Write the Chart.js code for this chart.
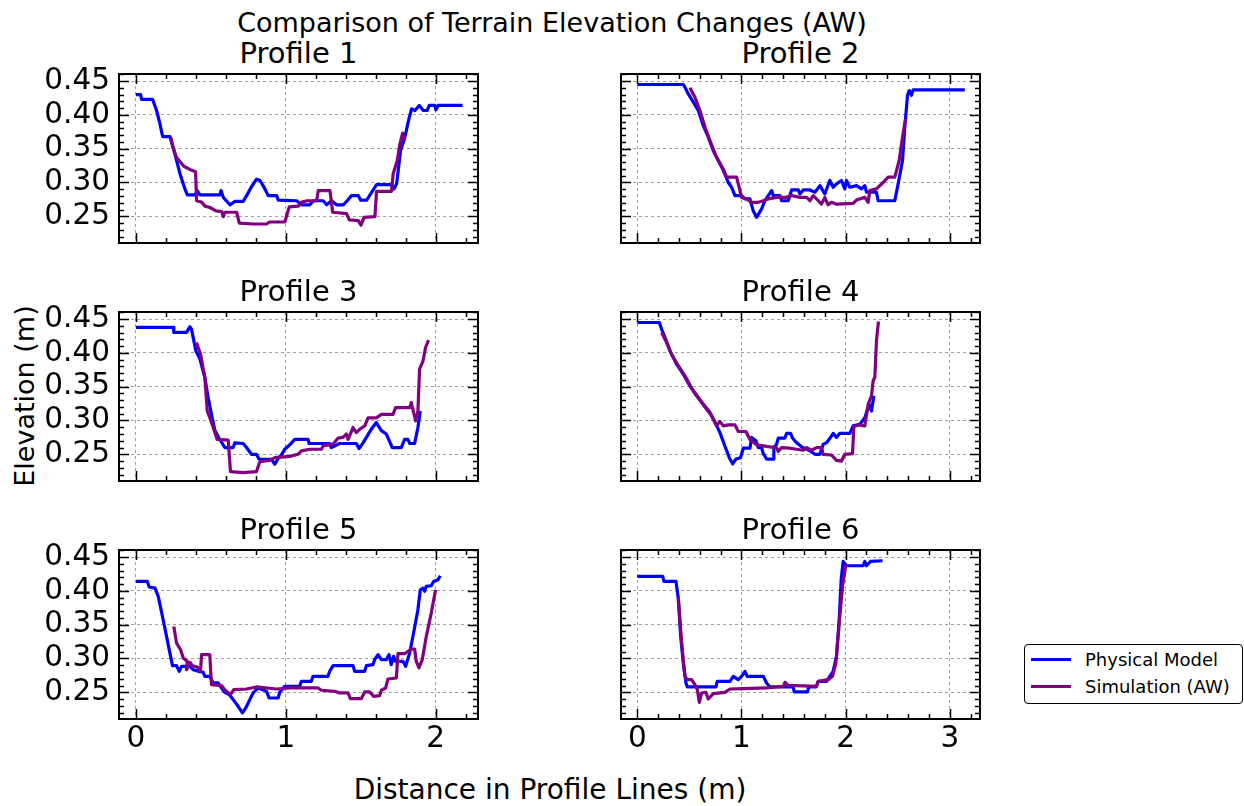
<!DOCTYPE html>
<html>
<head>
<meta charset="utf-8">
<title>Comparison of Terrain Elevation Changes (AW)</title>
<script src="https://cdn.jsdelivr.net/npm/chart.js@4.4.1/dist/chart.umd.min.js"></script>
<style>
  body { margin: 0; width: 1244px; height: 806px; background: #fff; position: relative; overflow: hidden;
         font-family: 'DejaVu Sans', sans-serif; color: #000; }
  canvas { position: absolute; }
  .txt { position: absolute; white-space: nowrap; line-height: 1; }
  #legend { position: absolute; left: 1024px; top: 644px; width: 219px; height: 60px; box-sizing: border-box;
            border: 1.5px solid #000; border-radius: 4px; background: #fff; }
  .leg-line { position: absolute; left: 6px; width: 40px; height: 3px; }
  .leg-text { position: absolute; left: 60px; font-size: 18px; line-height: 1; white-space: nowrap; }
</style>
</head>
<body>

<div class="txt" style="left:552px; top:9px; font-size:27px; transform:translateX(-50%);">Comparison of Terrain Elevation Changes (AW)</div>
<div class="txt" style="left:24px; top:396px; font-size:27px; transform:translate(-50%,-50%) rotate(-90deg);">Elevation (m)</div>
<div class="txt" style="left:550px; top:776px; font-size:28px; transform:translateX(-50%);">Distance in Profile Lines (m)</div>

<div id="legend">
  <div class="leg-line" style="top:13px; background:#0000ff;"></div>
  <div class="leg-text" style="top:6px;">Physical Model</div>
  <div class="leg-line" style="top:40px; background:#800080;"></div>
  <div class="leg-text" style="top:33px;">Simulation (AW)</div>
</div>

<script>
// Profile data, [distance (m), elevation (m)]
const p1Phys = [[0,0.430],[0.031,0.430],[0.038,0.423],[0.111,0.423],[0.138,0.4065],[0.160,0.387],[0.178,0.368],[0.227,0.368],[0.260,0.342],[0.294,0.313],[0.327,0.2905],[0.343,0.2816],[0.394,0.2816],[0.409,0.288],[0.427,0.2816],[0.561,0.2816],[0.568,0.288],[0.583,0.278],[0.627,0.267],[0.661,0.272],[0.716,0.272],[0.739,0.2806],[0.772,0.294],[0.805,0.305],[0.828,0.303],[0.861,0.2905],[0.883,0.2806],[0.939,0.2806],[0.950,0.274],[1.072,0.273],[1.106,0.267],[1.161,0.267],[1.184,0.273],[1.250,0.273],[1.273,0.267],[1.306,0.273],[1.339,0.267],[1.384,0.267],[1.410,0.273],[1.439,0.2806],[1.484,0.2806],[1.499,0.274],[1.540,0.274],[1.566,0.283],[1.606,0.297],[1.706,0.297],[1.722,0.2905],[1.740,0.298],[1.766,0.347],[1.795,0.367],[1.822,0.394],[1.840,0.409],[1.862,0.4065],[1.891,0.414],[1.918,0.4065],[1.944,0.4065],[1.958,0.414],[1.996,0.414],[2.002,0.4075],[2.018,0.414],[2.180,0.414]];
const p1Sim = [[0.234,0.366],[0.249,0.351],[0.271,0.337],[0.294,0.331],[0.320,0.324],[0.372,0.318],[0.398,0.316],[0.405,0.273],[0.438,0.271],[0.461,0.265],[0.494,0.263],[0.534,0.258],[0.572,0.257],[0.583,0.2495],[0.594,0.256],[0.672,0.256],[0.690,0.240],[0.783,0.2386],[0.872,0.2386],[0.894,0.2416],[0.994,0.2416],[1.023,0.264],[1.083,0.265],[1.106,0.271],[1.143,0.273],[1.206,0.273],[1.217,0.288],[1.295,0.288],[1.313,0.256],[1.406,0.254],[1.424,0.2446],[1.484,0.2436],[1.502,0.237],[1.522,0.2485],[1.595,0.2495],[1.606,0.287],[1.706,0.287],[1.717,0.313],[1.744,0.3325],[1.762,0.357],[1.780,0.373],[1.795,0.362]];

const p2Phys = [[0,0.445],[0.441,0.445],[0.457,0.441],[0.489,0.431],[0.537,0.419],[0.585,0.4065],[0.633,0.384],[0.681,0.367],[0.729,0.347],[0.777,0.3325],[0.825,0.318],[0.873,0.300],[0.905,0.293],[0.937,0.2806],[1.001,0.2806],[1.033,0.2757],[1.081,0.2757],[1.113,0.258],[1.145,0.2485],[1.193,0.261],[1.225,0.273],[1.257,0.2806],[1.289,0.288],[1.305,0.2806],[1.369,0.2806],[1.385,0.273],[1.449,0.273],[1.481,0.289],[1.545,0.289],[1.561,0.283],[1.593,0.289],[1.657,0.289],[1.705,0.2856],[1.753,0.2954],[1.800,0.283],[1.848,0.303],[1.880,0.293],[1.912,0.298],[1.960,0.303],[1.992,0.2905],[2.008,0.303],[2.040,0.293],[2.104,0.2954],[2.152,0.2905],[2.184,0.2954],[2.200,0.2856],[2.296,0.2856],[2.312,0.273],[2.472,0.273],[2.504,0.298],[2.546,0.3325],[2.568,0.382],[2.594,0.429],[2.610,0.436],[2.632,0.429],[2.648,0.437],[3.144,0.437]];
const p2Sim = [[0.505,0.440],[0.553,0.426],[0.601,0.4065],[0.649,0.382],[0.697,0.362],[0.761,0.337],[0.825,0.320],[0.857,0.308],[0.953,0.308],[1.001,0.278],[1.049,0.2757],[1.097,0.2707],[1.161,0.2707],[1.209,0.273],[1.257,0.2757],[1.337,0.278],[1.433,0.278],[1.481,0.2806],[1.561,0.278],[1.625,0.278],[1.657,0.273],[1.689,0.2806],[1.737,0.273],[1.768,0.268],[1.800,0.278],[1.832,0.267],[1.864,0.2707],[1.912,0.268],[2.072,0.269],[2.104,0.274],[2.184,0.278],[2.216,0.2707],[2.232,0.288],[2.296,0.2905],[2.360,0.300],[2.408,0.308],[2.472,0.308],[2.514,0.3325],[2.546,0.367],[2.575,0.394]];

const p3Phys = [[0,0.4377],[0.249,0.4377],[0.253,0.4303],[0.338,0.4303],[0.360,0.4386],[0.371,0.4352],[0.382,0.4229],[0.400,0.403],[0.427,0.391],[0.460,0.3636],[0.482,0.334],[0.504,0.309],[0.527,0.285],[0.560,0.272],[0.593,0.260],[0.649,0.260],[0.660,0.267],[0.716,0.266],[0.738,0.260],[0.771,0.250],[0.804,0.250],[0.822,0.2427],[0.904,0.2427],[0.927,0.2353],[0.949,0.244],[0.971,0.249],[0.993,0.2575],[1.027,0.264],[1.060,0.272],[1.149,0.272],[1.156,0.266],[1.293,0.266],[1.304,0.260],[1.360,0.266],[1.471,0.266],[1.489,0.2585],[1.516,0.267],[1.538,0.275],[1.571,0.287],[1.604,0.297],[1.638,0.285],[1.671,0.280],[1.711,0.260],[1.771,0.260],[1.793,0.272],[1.816,0.272],[1.827,0.266],[1.860,0.266],[1.882,0.2896],[1.898,0.314]];
const p3Sim = [[0.404,0.4155],[0.431,0.398],[0.460,0.3636],[0.476,0.314],[0.493,0.304],[0.516,0.2896],[0.542,0.272],[0.616,0.271],[0.631,0.2244],[0.716,0.2229],[0.804,0.2244],[0.827,0.239],[0.893,0.241],[0.927,0.245],[1.027,0.247],[1.082,0.250],[1.104,0.255],[1.160,0.2575],[1.238,0.2575],[1.249,0.2624],[1.316,0.265],[1.349,0.274],[1.382,0.275],[1.404,0.280],[1.416,0.272],[1.449,0.2896],[1.471,0.282],[1.493,0.287],[1.527,0.292],[1.549,0.304],[1.604,0.304],[1.638,0.309],[1.716,0.309],[1.733,0.319],[1.827,0.319],[1.838,0.3266],[1.853,0.312],[1.867,0.2995],[1.882,0.314],[1.893,0.376],[1.916,0.388],[1.933,0.408],[1.953,0.419]];

const p4Phys = [[0,0.445],[0.211,0.445],[0.233,0.435],[0.265,0.423],[0.313,0.403],[0.377,0.383],[0.441,0.3686],[0.505,0.351],[0.569,0.3365],[0.633,0.324],[0.697,0.312],[0.755,0.2945],[0.793,0.282],[0.841,0.262],[0.883,0.245],[0.915,0.236],[0.947,0.243],[0.991,0.245],[1.017,0.259],[1.081,0.259],[1.097,0.275],[1.139,0.270],[1.161,0.260],[1.193,0.260],[1.209,0.251],[1.241,0.243],[1.305,0.243],[1.311,0.260],[1.337,0.265],[1.353,0.274],[1.417,0.274],[1.433,0.281],[1.471,0.281],[1.490,0.274],[1.529,0.267],[1.577,0.261],[1.657,0.255],[1.705,0.250],[1.753,0.250],[1.784,0.265],[1.817,0.267],[1.855,0.275],[1.880,0.281],[1.912,0.275],[1.944,0.281],[2.040,0.281],[2.072,0.292],[2.136,0.2945],[2.184,0.304],[2.226,0.324],[2.248,0.314],[2.271,0.3365]];
const p4Sim = [[0.233,0.430],[0.281,0.4155],[0.329,0.398],[0.393,0.381],[0.457,0.366],[0.521,0.348],[0.585,0.334],[0.649,0.320],[0.713,0.307],[0.761,0.292],[0.793,0.2985],[0.825,0.292],[0.873,0.2935],[0.937,0.2935],[0.969,0.2837],[1.043,0.2837],[1.081,0.272],[1.145,0.264],[1.273,0.261],[1.337,0.260],[1.353,0.254],[1.385,0.260],[1.465,0.259],[1.529,0.2575],[1.593,0.256],[1.625,0.260],[1.673,0.256],[1.721,0.260],[1.769,0.260],[1.784,0.250],[1.864,0.249],[1.912,0.241],[1.960,0.240],[1.992,0.250],[2.066,0.251],[2.079,0.2906],[2.120,0.2935],[2.184,0.292],[2.216,0.324],[2.248,0.3365],[2.264,0.3587],[2.280,0.3636],[2.296,0.418],[2.315,0.4465]];

const p5Phys = [[0,0.414],[0.076,0.414],[0.089,0.4057],[0.127,0.4042],[0.149,0.392],[0.182,0.357],[0.204,0.333],[0.227,0.308],[0.244,0.2894],[0.271,0.2894],[0.289,0.281],[0.304,0.2884],[0.360,0.2884],[0.382,0.2835],[0.416,0.281],[0.449,0.2796],[0.460,0.2736],[0.493,0.2736],[0.516,0.2638],[0.549,0.2638],[0.571,0.2564],[0.593,0.250],[0.622,0.2466],[0.649,0.2392],[0.682,0.2293],[0.711,0.2195],[0.733,0.2268],[0.760,0.2392],[0.782,0.249],[0.816,0.2564],[0.871,0.2515],[0.889,0.2416],[0.949,0.2416],[0.960,0.250],[0.993,0.2589],[1.093,0.2589],[1.104,0.2663],[1.171,0.2663],[1.182,0.2736],[1.282,0.2736],[1.293,0.281],[1.316,0.2894],[1.449,0.2894],[1.460,0.281],[1.527,0.281],[1.538,0.2894],[1.582,0.2909],[1.593,0.2983],[1.616,0.3057],[1.638,0.2983],[1.671,0.2983],[1.689,0.3057],[1.704,0.2909],[1.720,0.3032],[1.733,0.2958],[1.782,0.2958],[1.800,0.2884],[1.827,0.3081],[1.853,0.3377],[1.882,0.3722],[1.898,0.4017],[1.916,0.4042],[1.927,0.3993],[1.938,0.4067],[1.971,0.4076],[1.987,0.414],[2.016,0.4165],[2.031,0.4224]];
const p5Sim = [[0.253,0.3475],[0.271,0.3229],[0.298,0.313],[0.316,0.3007],[0.342,0.2958],[0.338,0.2835],[0.360,0.2943],[0.378,0.2894],[0.409,0.2874],[0.431,0.281],[0.438,0.3057],[0.493,0.3057],[0.504,0.2613],[0.571,0.2599],[0.593,0.2539],[0.631,0.2466],[0.653,0.2539],[0.738,0.2549],[0.804,0.2579],[0.938,0.2549],[1.027,0.2564],[1.216,0.2564],[1.238,0.253],[1.327,0.2515],[1.360,0.249],[1.416,0.249],[1.431,0.2406],[1.504,0.2406],[1.527,0.2505],[1.560,0.2505],[1.587,0.2441],[1.627,0.2451],[1.638,0.253],[1.667,0.2564],[1.682,0.2697],[1.738,0.2712],[1.749,0.3071],[1.793,0.3071],[1.838,0.314],[1.860,0.314],[1.871,0.2958],[1.889,0.286],[1.911,0.2983],[1.938,0.3328],[1.971,0.3672],[2.000,0.4017]];

const p6Phys = [[0,0.4214],[0.243,0.4214],[0.256,0.414],[0.371,0.414],[0.393,0.3894],[0.416,0.3328],[0.441,0.2933],[0.467,0.2638],[0.480,0.2579],[0.755,0.2579],[0.767,0.2663],[0.889,0.2663],[0.921,0.2736],[0.969,0.2687],[1.001,0.2736],[1.033,0.281],[1.055,0.2736],[1.209,0.2736],[1.241,0.2638],[1.273,0.2579],[1.497,0.2579],[1.506,0.2505],[1.631,0.2505],[1.647,0.2579],[1.716,0.2579],[1.737,0.2663],[1.817,0.2663],[1.848,0.2736],[1.880,0.281],[1.912,0.3032],[1.938,0.3574],[1.957,0.4165],[1.976,0.4436],[2.008,0.4372],[2.168,0.4372],[2.184,0.4436],[2.200,0.4372],[2.239,0.4436],[2.354,0.4446]];
const p6Sim = [[0.393,0.3894],[0.416,0.3426],[0.435,0.3081],[0.457,0.2736],[0.480,0.2687],[0.521,0.2687],[0.553,0.2613],[0.576,0.2539],[0.595,0.2352],[0.617,0.249],[0.658,0.250],[0.681,0.2401],[0.729,0.248],[0.841,0.250],[0.889,0.2549],[1.017,0.2554],[1.241,0.2564],[1.401,0.2589],[1.417,0.2648],[1.449,0.2603],[1.529,0.2599],[1.721,0.2589],[1.737,0.2663],[1.833,0.2687],[1.874,0.2736],[1.906,0.2933],[1.938,0.3524],[1.970,0.4067],[2.002,0.4387]];

const profileNames = ['Profile 1', 'Profile 2', 'Profile 3', 'Profile 4', 'Profile 5', 'Profile 6'];
const physSeries = [p1Phys, p2Phys, p3Phys, p4Phys, p5Phys, p6Phys];
const simSeries = [p1Sim, p2Sim, p3Sim, p4Sim, p5Sim, p6Sim];

// Axis limits and ticks
const yLimits = [0.2105, 0.4605];
const yTicks = [0.25, 0.30, 0.35, 0.40, 0.45];
const yTickLabels = ['0.25', '0.30', '0.35', '0.40', '0.45'];
const leftXLimits = [-0.113, 2.283];
const rightXLimits = [-0.157, 3.29];
const leftXTicks = [0, 1, 2];
const rightXTicks = [0, 1, 2, 3];

Chart.defaults.font.family = "'DejaVu Sans', sans-serif";
Chart.defaults.color = '#000';

// Panel geometry (plot area in page pixels)
const colLeft = [119, 621];
const rowTop = [74, 312, 550];
const plotW = 359, plotH = 169;
const tickFont = 29.5;

// Inward ticks on all four sides + black frame
const frameTicks = {
  id: 'frameTicks',
  afterDraw(chart) {
    const {ctx, chartArea: a, scales: {x, y}} = chart;
    ctx.save();
    ctx.strokeStyle = '#000';
    ctx.lineWidth = 1.5;
    ctx.beginPath();
    for (let k = Math.ceil(x.min * 5); k <= Math.floor(x.max * 5); k++) {
      const px = Math.round(x.getPixelForValue(k / 5)) + 0.5;
      const len = k % 5 === 0 ? 10 : 5;
      ctx.moveTo(px, a.bottom); ctx.lineTo(px, a.bottom - len);
      ctx.moveTo(px, a.top); ctx.lineTo(px, a.top + len);
    }
    for (let k = Math.ceil(y.min * 100); k <= Math.floor(y.max * 100); k++) {
      const py = Math.round(y.getPixelForValue(k / 100)) + 0.5;
      const len = k % 5 === 0 ? 10 : 5;
      ctx.moveTo(a.left, py); ctx.lineTo(a.left + len, py);
      ctx.moveTo(a.right, py); ctx.lineTo(a.right - len, py);
    }
    ctx.stroke();
    ctx.lineWidth = 2;
    ctx.strokeRect(a.left, a.top, a.right - a.left, a.bottom - a.top);
    ctx.restore();
  }
};

function makePanel(i) {
  const col = i % 2, row = Math.floor(i / 2);
  const padTop = 30, padRight = 12, yAxisW = 119, xAxisH = 50;
  const w = yAxisW + plotW + padRight, h = padTop + plotH + xAxisH;
  const left = colLeft[col], top = rowTop[row];

  // Subplot title
  const t = document.createElement('div');
  t.className = 'txt';
  t.textContent = profileNames[i];
  t.style.fontSize = '29px';
  t.style.left = (left + plotW / 2) + 'px';
  t.style.top = (top - 35.2) + 'px';
  t.style.transform = 'translateX(-50%)';
  document.body.appendChild(t);

  const canvas = document.createElement('canvas');
  canvas.width = w; canvas.height = h;
  canvas.style.left = (left - yAxisW) + 'px';
  canvas.style.top = (top - padTop) + 'px';
  canvas.style.width = w + 'px';
  canvas.style.height = h + 'px';
  document.body.appendChild(canvas);

  const xLim = col === 0 ? leftXLimits : rightXLimits;
  const xTicks = col === 0 ? leftXTicks : rightXTicks;

  new Chart(canvas, {
    type: 'line',
    data: {
      datasets: [
        {
          label: 'Physical Model',
          data: physSeries[i].map(([x, y]) => ({x, y})),
          borderColor: '#0000ff',
          borderWidth: 3.2,
          pointRadius: 0,
          borderJoinStyle: 'round',
          fill: false,
          order: 1
        },
        {
          label: 'Simulation (AW)',
          data: simSeries[i].map(([x, y]) => ({x, y})),
          borderColor: '#800080',
          borderWidth: 3.2,
          pointRadius: 0,
          borderJoinStyle: 'round',
          fill: false,
          order: 0
        }
      ]
    },
    options: {
      responsive: false,
      animation: false,
      devicePixelRatio: 1,
      layout: { padding: { left: 0, top: padTop, right: padRight, bottom: 0 } },
      scales: {
        x: {
          type: 'linear',
          min: xLim[0], max: xLim[1],
          afterBuildTicks: s => { s.ticks = xTicks.map(v => ({value: v})); },
          afterFit: s => { s.height = xAxisH; },
          ticks: {
            display: row === 2,
            font: { size: tickFont },
            padding: 3,
            maxRotation: 0,
            callback: v => String(v)
          },
          grid: { color: '#a0a0a0', lineWidth: 1, drawTicks: false },
          border: { display: false, dash: [3, 3] }
        },
        y: {
          type: 'linear',
          min: yLimits[0], max: yLimits[1],
          afterBuildTicks: s => { s.ticks = yTicks.map(v => ({value: v})); },
          afterFit: s => { s.width = yAxisW; },
          ticks: {
            display: col === 0,
            font: { size: tickFont },
            padding: 9,
            callback: v => yTickLabels[yTicks.findIndex(t => Math.abs(t - v) < 1e-6)]
          },
          grid: { color: '#a0a0a0', lineWidth: 1, drawTicks: false },
          border: { display: false, dash: [3, 3] }
        }
      },
      plugins: {
        legend: { display: false },
        tooltip: { enabled: false },
        title: { display: false }
      }
    },
    plugins: [frameTicks]
  });
}

for (let i = 0; i < 6; i++) makePanel(i);
</script>
</body>
</html>
